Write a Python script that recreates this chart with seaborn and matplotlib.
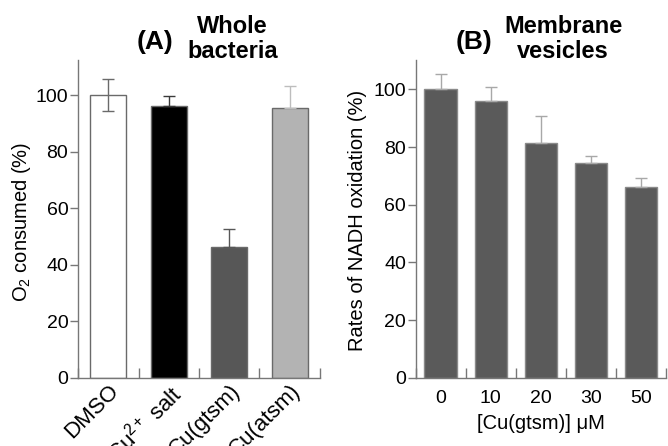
import numpy as np
import pandas as pd
import matplotlib
matplotlib.use("Agg")
import matplotlib.pyplot as plt
import seaborn as sns

# panel A: whole bacteria
a_labels = ["DMSO", "Cu$^{2+}$ salt", "Cu(gtsm)", "Cu(atsm)"]
a_values = [100.0, 96.1, 46.3, 95.3]
a_err = [5.7, 3.4, 6.5, 7.9]
a_colors = ["#ffffff", "#000000", "#575757", "#b3b3b3"]
a_err_colors = ["#6a6a6a", "#3a3a3a", "#575757", "#bdbdbd"]

# panel B: membrane vesicles
b_labels = ["0", "10", "20", "30", "50"]
b_values = [100.0, 96.0, 81.5, 74.4, 66.1]
b_err = [5.3, 4.7, 9.1, 2.4, 3.0]

sns.set_theme(style="white")
plt.rcParams["font.family"] = ["Liberation Sans", "DejaVu Sans"]
plt.rcParams["mathtext.fontset"] = "custom"
plt.rcParams["mathtext.rm"] = "Liberation Sans"
plt.rcParams["mathtext.it"] = "Liberation Sans:italic"
plt.rcParams["text.color"] = "black"
plt.rcParams["xtick.labelcolor"] = "black"
plt.rcParams["ytick.labelcolor"] = "black"
plt.rcParams["axes.labelcolor"] = "black"

spine_col = "#777777"
fs = 14
lfs = 14.5

fig = plt.figure(figsize=(6.68, 4.46), dpi=100)
ax1 = fig.add_axes([0.1168, 0.1525, 0.3622, 0.713])
ax2 = fig.add_axes([0.6223, 0.1531, 0.3747, 0.7124])


def style_axis(ax, n, ymax):
    ax.set_xlim(-0.5, n - 0.5)
    ax.set_ylim(0, ymax)
    for s in ["top", "right"]:
        ax.spines[s].set_visible(False)
    for s in ["left", "bottom"]:
        ax.spines[s].set_color(spine_col)
        ax.spines[s].set_linewidth(1.0)
    ax.set_yticks([0, 20, 40, 60, 80, 100])
    ax.tick_params(axis="y", direction="out", length=6, width=1.0,
                   color=spine_col, labelsize=fs, pad=1, left=True)
    ax.set_xticks(np.arange(n))
    ax.set_xticks(np.arange(n + 1) - 0.5, minor=True)
    ax.tick_params(axis="x", which="major", length=0, labelsize=fs, pad=9)
    ax.tick_params(axis="x", which="minor", direction="in", length=7,
                   width=1.0, color=spine_col, bottom=True)


# ---- panel A ----
df_a = pd.DataFrame({"cond": a_labels, "val": a_values})
sns.barplot(data=df_a, x="cond", y="val", hue="cond", palette=a_colors,
            width=0.6, errorbar=None, legend=False, ax=ax1,
            edgecolor="#6a6a6a", linewidth=1.0)
for i, (v, e, c) in enumerate(zip(a_values, a_err, a_err_colors)):
    lower = e if i == 0 else 0
    ax1.errorbar(i, v, yerr=[[lower], [e]], fmt="none", ecolor=c,
                 elinewidth=1.0, capsize=4, capthick=1.0, zorder=5)
style_axis(ax1, len(a_labels), 112.4)
ax1.set_xticklabels(a_labels, rotation=45, ha="right", va="top",
                    rotation_mode="anchor", fontsize=16)
ax1.tick_params(axis="x", which="major", pad=2)
ax1.set_xlabel("")
ax1.set_ylabel("O$_2$ consumed (%)", fontsize=lfs)
ax1.yaxis.set_label_coords(-0.188, 0.49)

fig.text(0.232, 0.906, "(A)", fontsize=19, fontweight="bold",
         ha="center", va="center")
fig.text(0.348, 0.912, "Whole\nbacteria", fontsize=17, fontweight="bold",
         ha="center", va="center", linespacing=1.1)

# ---- panel B ----
df_b = pd.DataFrame({"conc": b_labels, "val": b_values})
sns.barplot(data=df_b, x="conc", y="val", color="#5a5a5a", width=0.65,
            errorbar=None, ax=ax2, edgecolor="#8a8a8a", linewidth=1.0,
            saturation=1)
ax2.errorbar(np.arange(len(b_values)), b_values,
             yerr=[np.zeros(len(b_err)), b_err], fmt="none",
             ecolor="#a8a8a8", elinewidth=1.0, capsize=4, capthick=1.0,
             zorder=5)
style_axis(ax2, len(b_labels), 110.2)
ax2.set_xlabel("[Cu(gtsm)] \u03bcM", fontsize=lfs, labelpad=5)
ax2.set_ylabel("Rates of NADH oxidation (%)", fontsize=lfs)
ax2.yaxis.set_label_coords(-0.193, 0.495)

fig.text(0.709, 0.906, "(B)", fontsize=19, fontweight="bold",
         ha="center", va="center")
fig.text(0.843, 0.912, "Membrane\nvesicles", fontsize=17, fontweight="bold",
         ha="center", va="center", linespacing=1.1)

fig.savefig("out.png", dpi=100, facecolor="white")
